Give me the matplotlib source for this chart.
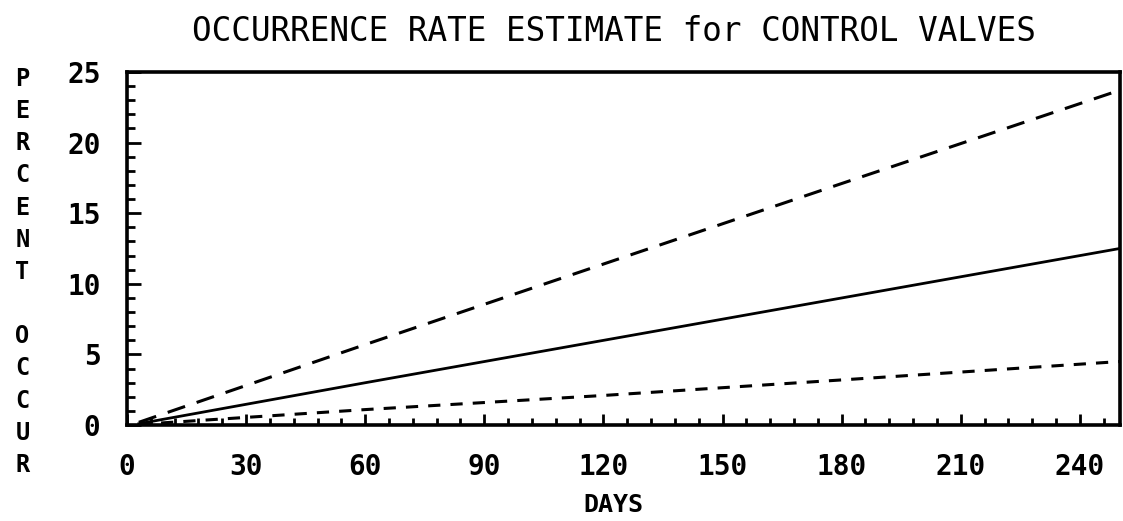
import numpy as np
import matplotlib
matplotlib.use('Agg')
import matplotlib.pyplot as plt
from matplotlib.ticker import MultipleLocator

# values
days = [3, 60, 120, 180, 250]
upper = [0.2, 5.7, 11.4, 17.1, 23.7]
estimate = [0.1, 3.0, 6.0, 9.0, 12.5]
lower = [0.05, 1.1, 2.1, 3.2, 4.5]

xticks = [0, 30, 60, 90, 120, 150, 180, 210, 240]
yticks = [0, 5, 10, 15, 20, 25]

mono = 'DejaVu Sans Mono'

fig = plt.figure(figsize=(11.23, 5.21), dpi=100)
ax = fig.add_axes([0.113, 0.184, 0.884, 0.678])

ax.plot(days, upper, color='black', lw=2.2, dashes=(6, 4))
ax.plot(days, estimate, color='black', lw=2.0)
ax.plot(days, lower, color='black', lw=2.2, dashes=(4, 3.3))

ax.set_xlim(0, 250)
ax.set_ylim(0, 25)
ax.set_xticks(xticks)
ax.set_yticks(yticks)
ax.xaxis.set_minor_locator(MultipleLocator(6))
ax.yaxis.set_minor_locator(MultipleLocator(1))
ax.tick_params(which='both', direction='in', width=2, colors='black')
ax.tick_params(which='major', labelsize=20)
ax.tick_params(axis='y', which='major', length=10, pad=19)
ax.tick_params(axis='y', which='minor', length=6)
ax.tick_params(axis='x', which='major', length=8, pad=20)
ax.tick_params(axis='x', which='minor', length=5)
for lab in ax.get_xticklabels() + ax.get_yticklabels():
    lab.set_family(mono)
    lab.set_weight('bold')
for s in ax.spines.values():
    s.set_linewidth(2.6)

fig.text(0.546, 0.031, 'DAYS', ha='center', va='center', family=mono,
         fontsize=18, fontweight='bold')
fig.text(0.547, 0.94, 'OCCURRENCE RATE ESTIMATE for CONTROL VALVES',
         ha='center', va='center', family=mono, fontsize=23.5)
fig.text(0.02, 0.478, '\n'.join('PERCENT OCCUR'), ha='center', va='center',
         family=mono, fontsize=17, fontweight='bold', linespacing=1.43)

fig.savefig('out.png', dpi=100)
